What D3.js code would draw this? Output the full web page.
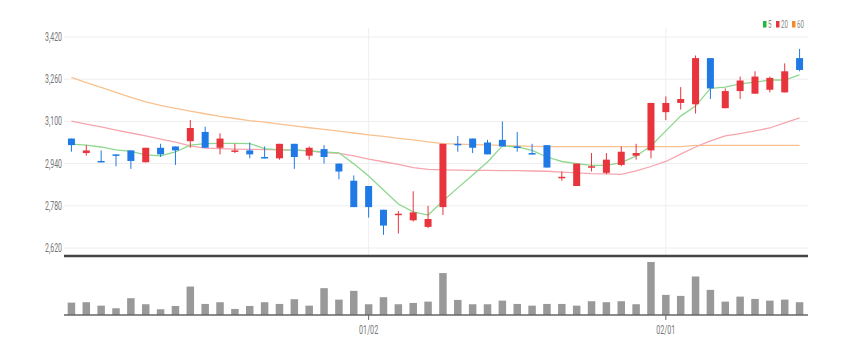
<!DOCTYPE html>
<html>
<head>
<meta charset="utf-8">
<script src="https://cdn.jsdelivr.net/npm/d3@7"></script>
<style>
  html, body { margin: 0; padding: 0; background: #fff; }
  svg { display: block; font-family: Roboto, "Noto Sans", sans-serif; }
</style>
</head>
<body>
<div id="chart"></div>
<script>
const dates = ["12/02","12/05","12/06","12/07","12/08","12/09","12/12","12/13","12/14","12/15",
  "12/16","12/19","12/20","12/21","12/22","12/23","12/26","12/27","12/28","12/29",
  "01/02","01/03","01/04","01/05","01/06","01/09","01/10","01/11","01/12","01/13",
  "01/16","01/17","01/18","01/19","01/20","01/25","01/26","01/27","01/30","01/31",
  "02/01","02/02","02/03","02/06","02/07","02/08","02/09","02/10","02/13","02/14"];

const open  = [3035,2980,2950,2975,2990,2945,3000,3005,3025,3060, 3000,2985,2990,2965,2960,3015,2970,2995,2940,2875,
               2855,2765,2745,2725,2700,2775,3015,3035,3020,3030, 3005,2980,3010,2885,2855,2925,2905,2935,2970,2990,
               3135,3170,3165,3340,3150,3215,3205,3220,3210,3340];
const high  = [3035,3010,2990,2975,2990,3000,3015,3005,3105,3080, 3055,3015,3020,3005,3015,3015,3005,3010,2940,2895,
               2855,2765,2760,2835,2780,3015,3045,3035,3030,3100, 3060,3015,3010,2910,2940,2980,2980,3005,3015,3170,
               3195,3230,3350,3340,3225,3270,3290,3270,3320,3375];
const low   = [2985,2970,2945,2930,2920,2945,2965,2935,3000,3000, 2975,2980,2960,2960,2955,2920,2955,2940,2880,2775,
               2735,2670,2675,2720,2695,2745,2985,2980,2975,3005, 2985,2975,2925,2875,2855,2910,2900,2930,2955,2960,
               3105,3145,3130,3185,3150,3185,3205,3210,3210,3290];
const close = [3010,2990,2945,2970,2950,3000,2975,2990,3075,3000, 3035,2990,2975,2960,3015,2965,3000,2965,2910,2775,
               2775,2705,2750,2755,2730,3015,3010,3000,2975,3005, 3000,2975,2925,2890,2940,2930,2955,2985,2980,3170,
               3170,3185,3340,3225,3215,3255,3270,3265,3290,3295];

const volume = [123000,127000,93000,67000,167000,107000,57000,90000,283000,110000,
                127000,60000,90000,127000,110000,157000,93000,267000,153000,240000,
                107000,177000,107000,120000,133000,417000,150000,107000,107000,143000,
                110000,93000,110000,110000,93000,137000,127000,137000,107000,527000,
                200000,190000,383000,250000,133000,183000,160000,143000,153000,127000];

const ma5  = [3014,3010,3003,2992,2986,2973,2969,2984,3010,3016, 3017,3017,3016,2997,2992,2992,2988,2984,2981,2939,
              2893,2840,2787,2757,2745,2798,2848,2897,2946,3007, 3003,2990,2965,2948,2940,2933,2933,2944,2969,3007,
              3064,3120,3158,3225,3230,3242,3249,3257,3257,3276];
const ma20 = [3101,3090,3079,3067,3056,3045,3033,3021,3007,2999, 2997,2995,2994,2993,2992,2991,2988,2982,2979,2969,
              2957,2947,2937,2925,2918,2916,2915,2914,2914,2913, 2913,2912,2911,2908,2905,2902,2901,2899,2912,2929,
              2948,2976,3003,3026,3045,3054,3064,3075,3094,3113];
const ma60 = [3267,3247,3229,3210,3191,3174,3161,3149,3139,3129, 3119,3111,3103,3097,3090,3083,3076,3070,3063,3056,
              3049,3043,3036,3030,3022,3016,3014,3012,3011,3009, 3007,3005,3004,3004,3004,3004,3004,3004,3004,3004,
              3004,3004,3009,3009,3009,3009,3009,3009,3009,3009];

const yTicks = [2620, 2780, 2940, 3100, 3260, 3420];
const xTickLabels = ["01/02", "02/01"];
const legendNames = ["5", "20", "60"];

const width = 852, height = 354;
const upColor = "#e8353d", downColor = "#1f7ae6";
const maColors = ["#8ed88e", "#f6a5ae", "#f8c290"];

const svg = d3.select("#chart").append("svg")
    .attr("width", width)
    .attr("height", height);

const x = d3.scaleBand(dates, [64, 807]);
const cx = d => x(d) + x.bandwidth() / 2;
const y = d3.scaleLinear([2620, 3420], [248, 37]);
const yv = d3.scaleLinear([0, d3.max(volume)], [315, 262]);

// grid
svg.append("g")
    .selectAll("line")
    .data(yTicks)
    .join("line")
    .attr("x1", 64).attr("x2", 808)
    .attr("y1", d => y(d)).attr("y2", d => y(d))
    .attr("stroke", "#eeeeee");

svg.append("g")
    .selectAll("line")
    .data(xTickLabels)
    .join("line")
    .attr("x1", d => cx(d)).attr("x2", d => cx(d))
    .attr("y1", 28).attr("y2", 255)
    .attr("stroke", "#eeeeee");

// y labels, squeezed like the original
svg.append("g")
    .selectAll("text")
    .data(yTicks)
    .join("text")
    .attr("transform", d => `translate(62,${y(d) + 4}) scale(0.58,1)`)
    .attr("text-anchor", "end")
    .attr("font-size", 12)
    .attr("fill", "#777")
    .text(d => d3.format(",")(d));

// moving averages
const maLine = d3.line().x((d, i) => cx(dates[i])).y(d => y(d));
[ma60, ma20, ma5].forEach((s, k) => {
    svg.append("path")
        .datum(s)
        .attr("fill", "none")
        .attr("stroke", maColors[2 - k])
        .attr("stroke-width", 1.3)
        .attr("d", maLine);
});

// candles
const candles = svg.append("g")
    .selectAll("g")
    .data(dates.map((d, i) => ({ d, o: open[i], h: high[i], l: low[i], c: close[i] })))
    .join("g")
    .attr("fill", d => d.c >= d.o ? upColor : downColor)
    .attr("stroke", d => d.c >= d.o ? upColor : downColor);

candles.append("line")
    .attr("x1", d => cx(d.d)).attr("x2", d => cx(d.d))
    .attr("y1", d => y(d.h)).attr("y2", d => y(d.l))
    .attr("stroke-width", 1);

candles.append("rect")
    .attr("x", d => cx(d.d) - 3.5)
    .attr("width", 7)
    .attr("y", d => y(Math.max(d.o, d.c)))
    .attr("height", d => Math.max(1.5, Math.abs(y(d.o) - y(d.c))))
    .attr("stroke", "none");

// separator
svg.append("line")
    .attr("x1", 64).attr("x2", 808)
    .attr("y1", 256).attr("y2", 256)
    .attr("stroke", "#444")
    .attr("stroke-width", 2.5);

// volume
svg.append("g")
    .selectAll("rect")
    .data(volume)
    .join("rect")
    .attr("x", (d, i) => cx(dates[i]) - 3.75)
    .attr("width", 7.5)
    .attr("y", d => yv(d))
    .attr("height", d => yv(0) - yv(d))
    .attr("fill", "#999");

svg.append("line")
    .attr("x1", 64).attr("x2", 808)
    .attr("y1", 315).attr("y2", 315)
    .attr("stroke", "#666")
    .attr("stroke-width", 1.5);

svg.append("g")
    .selectAll("line")
    .data(xTickLabels)
    .join("line")
    .attr("x1", d => cx(d)).attr("x2", d => cx(d))
    .attr("y1", 315).attr("y2", 320)
    .attr("stroke", "#666");

svg.append("g")
    .selectAll("text")
    .data(xTickLabels)
    .join("text")
    .attr("transform", d => `translate(${cx(d)},334) scale(0.6,1)`)
    .attr("text-anchor", "middle")
    .attr("font-size", 12)
    .attr("fill", "#777")
    .text(d => d);

// legend
const legX = [763, 776, 792];
const leg = svg.append("g")
    .selectAll("g")
    .data(legendNames)
    .join("g")
    .attr("transform", (d, i) => `translate(${legX[i]},21)`);
leg.append("rect")
    .attr("width", 3.5).attr("height", 6.5)
    .attr("fill", (d, i) => ["#22b83a", "#e8353d", "#f08c2e"][i]);
leg.append("text")
    .attr("transform", "translate(5,6.5) scale(0.62,1)")
    .attr("font-size", 10)
    .attr("fill", "#888")
    .text(d => d);
</script>
</body>
</html>
